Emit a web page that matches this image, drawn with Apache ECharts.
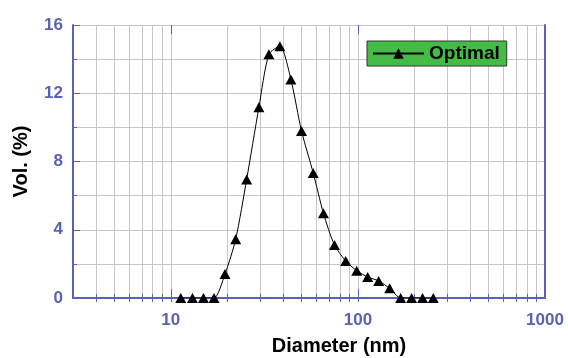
<!DOCTYPE html>
<html>
<head>
<meta charset="utf-8">
<script src="https://cdn.jsdelivr.net/npm/echarts@6/dist/echarts.min.js"></script>
<style>
    html, body { margin: 0; padding: 0; background: #fff; }
    #chart { width: 568px; height: 358px; }
</style>
</head>
<body>
<div id="chart"></div>
<script>
// 粒径分布数据
var diameters = [11.3, 13.05, 14.94, 17.02, 19.48, 22.22, 25.43, 29.57, 33.44, 38.28, 43.82, 49.96,
    57.69, 65.46, 74.94, 86.07, 98.53, 112.8, 129.1, 147.8, 169.2, 193.6, 221.6, 252.8];
var volumes = [0, 0, 0, 0, 1.4, 3.45, 6.95, 11.18, 14.28, 14.76, 12.81, 9.79,
    7.33, 4.96, 3.1, 2.17, 1.6, 1.23, 1.0, 0.57, 0, 0, 0, 0];
var seriesName = 'Optimal';
var xGridValues = [4, 5, 6, 7, 8, 9, 10, 20, 30, 40, 50, 60, 70, 80, 90, 100,
    200, 300, 400, 500, 600, 700, 800, 900];
var xMajorTicks = [10, 100];
var xLabels = [10, 100, 1000];

var axisColor = '#5a62b3';
var gridColor = '#c6c6c6';

var chart = echarts.init(document.getElementById('chart'));

var points = [];
for (var i = 0; i < diameters.length; i++) {
    points.push([diameters[i], volumes[i]]);
}

function xAxisBase(pos) {
    return {
        type: 'log',
        logBase: 10,
        min: 3,
        max: 1000,
        position: pos,
        axisLine: { show: true, lineStyle: { color: axisColor, width: 2 } },
        axisTick: { show: true, inside: true, length: 4, customValues: xGridValues,
            lineStyle: { color: axisColor, width: 1 } },
        axisLabel: { show: false },
        splitLine: { show: false }
    };
}

var xBottom = xAxisBase('bottom');
xBottom.name = 'Diameter (nm)';
xBottom.nameLocation = 'middle';
xBottom.nameGap = 38;
xBottom.nameTextStyle = { color: '#000', fontSize: 20, fontWeight: 'bold',
    fontFamily: 'Liberation Sans', padding: [0, 0, 0, 60] };
xBottom.axisLabel = { show: true, customValues: xLabels, color: axisColor, fontSize: 17,
    fontWeight: 'bold', fontFamily: 'Liberation Sans', margin: 14,
    formatter: function (v) { return String(Math.round(v)); } };
xBottom.splitLine = { show: true, lineStyle: { color: gridColor, width: 1 } };

var xTop = xAxisBase('top');

var xBottomMajor = xAxisBase('bottom');
xBottomMajor.axisLine = { show: false };
xBottomMajor.axisTick = { show: true, inside: true, length: 9, customValues: xMajorTicks,
    lineStyle: { color: axisColor, width: 1 } };

var xTopMajor = xAxisBase('top');
xTopMajor.axisLine = { show: false };
xTopMajor.axisTick = { show: true, inside: true, length: 9, customValues: xMajorTicks,
    lineStyle: { color: axisColor, width: 1 } };

var option = {
    backgroundColor: '#fff',
    animation: false,
    grid: { left: 73, right: 23, top: 25, bottom: 60, containLabel: false, outerBoundsMode: 'none' },
    legend: {
        data: [seriesName],
        left: 367,
        top: 41,
        backgroundColor: '#44bb44',
        borderColor: '#333',
        borderWidth: 1,
        borderRadius: 0,
        padding: [3, 7, 3, 5],
        itemWidth: 51,
        itemHeight: 13,
        itemGap: 4,
        textStyle: { color: '#000', fontSize: 19, fontWeight: 'bold', fontFamily: 'Liberation Sans' }
    },
    xAxis: [xBottom, xTop, xBottomMajor, xTopMajor],
    yAxis: [{
        type: 'value',
        min: 0,
        max: 16,
        interval: 4,
        position: 'left',
        name: 'Vol. (%)',
        nameLocation: 'middle',
        nameGap: 42,
        nameTextStyle: { color: '#000', fontSize: 20, fontWeight: 'bold', fontFamily: 'Liberation Sans' },
        axisLine: { show: true, lineStyle: { color: axisColor, width: 2 } },
        axisTick: { show: true, inside: true, length: 7, lineStyle: { color: axisColor } },
        minorTick: { show: true, splitNumber: 2, length: 4, lineStyle: { color: axisColor } },
        axisLabel: { color: axisColor, fontSize: 17, fontWeight: 'bold', fontFamily: 'Liberation Sans', margin: 10 },
        splitLine: { show: true, lineStyle: { color: gridColor, width: 1 } },
        minorSplitLine: { show: true, lineStyle: { color: gridColor, width: 1 } }
    }, {
        type: 'value',
        min: 0,
        max: 16,
        interval: 4,
        position: 'right',
        axisLine: { show: true, lineStyle: { color: axisColor, width: 2 } },
        axisTick: { show: false },
        axisLabel: { show: false },
        splitLine: { show: false }
    }],
    series: [{
        name: seriesName,
        type: 'line',
        xAxisIndex: 0,
        yAxisIndex: 0,
        data: points,
        smooth: 0.25,
        symbol: 'triangle',
        symbolSize: [11, 10],
        itemStyle: { color: '#000' },
        lineStyle: { color: '#000', width: 1 },
        z: 5
    }]
};

chart.setOption(option);
</script>
</body>
</html>
